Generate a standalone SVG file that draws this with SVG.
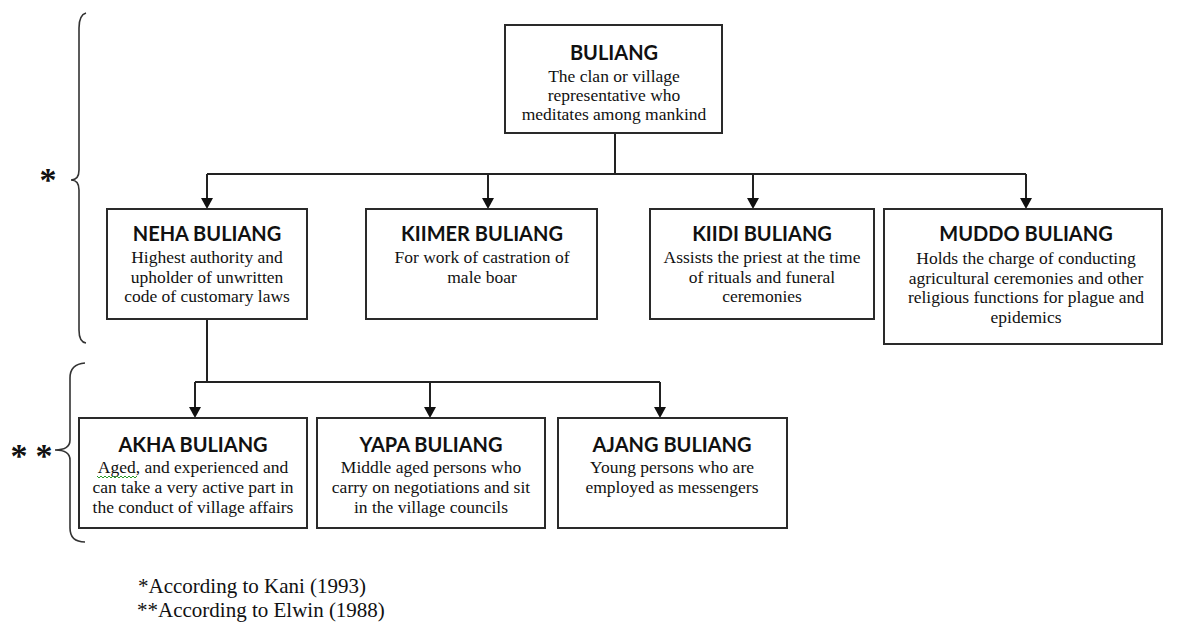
<svg xmlns="http://www.w3.org/2000/svg" width="1182" height="622" viewBox="0 0 1182 622">
<style>
.box{fill:#fff;stroke:#2a2a2a;stroke-width:2}
.t{font-family:Lato,"Liberation Sans",sans-serif;font-weight:bold;font-size:20px;fill:#111;text-anchor:middle}
.b{font-family:"Liberation Serif",serif;font-size:17.5px;fill:#111;text-anchor:middle}
.ln{fill:none;stroke:#222;stroke-width:2}
.br{fill:none;stroke:#333;stroke-width:1.6}
.ast{font-family:"Liberation Serif",serif;font-weight:bold;font-size:34px;fill:#111}
.fn{font-family:"Liberation Serif",serif;font-size:21px;fill:#111}
</style>
<rect width="1182" height="622" fill="#fff"/>
<g id="connectors">
<path class="ln" d="M615,133 V174"/>
<path class="ln" d="M207,174 H1026"/>
<path class="ln" d="M207,174 V207"/>
<path class="ln" d="M488,174 V207"/>
<path class="ln" d="M753,174 V207"/>
<path class="ln" d="M1026,174 V207"/>
<polygon points="201,198 213,198 207,209" fill="#111"/>
<polygon points="482,198 494,198 488,209" fill="#111"/>
<polygon points="747,198 759,198 753,209" fill="#111"/>
<polygon points="1020,198 1032,198 1026,209" fill="#111"/>
<path class="ln" d="M207,319 V382"/>
<path class="ln" d="M195,382 H660" stroke="#555"/>
<path class="ln" d="M195,382 V416"/>
<path class="ln" d="M430,382 V416"/>
<path class="ln" d="M660,382 V416"/>
<polygon points="189,407 201,407 195,418" fill="#111"/>
<polygon points="424,407 436,407 430,418" fill="#111"/>
<polygon points="654,407 666,407 660,418" fill="#111"/>
</g>
<g id="brace-top">
<path class="br" d="M86,13 Q79,15 79,28 L79,170 Q79,180 71,180 Q79,180 79,190 L79,330 Q79,342 86,343"/>
<text class="ast" x="48" y="191" text-anchor="middle">*</text>
</g>
<g id="brace-bottom">
<path class="br" d="M85,363 Q70,364 70,378 L70,440 Q70,450 55,450 Q70,450 70,460 L70,528 Q70,542 85,542"/>
<text class="ast" x="19" y="467" text-anchor="middle">*</text>
<text class="ast" x="44" y="467" text-anchor="middle">*</text>
</g>
<g id="buliang">
<rect class="box" x="505" y="25" width="217" height="108"/>
<text class="t" x="614" y="60">BULIANG</text>
<text class="b" x="614" y="82">The clan or village</text>
<text class="b" x="614" y="101">representative who</text>
<text class="b" x="614" y="120">meditates among mankind</text>
</g>
<g id="neha">
<rect class="box" x="107" y="209" width="200" height="110"/>
<text class="t" x="207" y="241">NEHA BULIANG</text>
<text class="b" x="207" y="263">Highest authority and</text>
<text class="b" x="207" y="283">upholder of unwritten</text>
<text class="b" x="207" y="302">code of customary laws</text>
</g>
<g id="kiimer">
<rect class="box" x="366" y="209" width="231" height="110"/>
<text class="t" x="482" y="241">KIIMER BULIANG</text>
<text class="b" x="482" y="263">For work of castration of</text>
<text class="b" x="482" y="283">male boar</text>
</g>
<g id="kiidi">
<rect class="box" x="650" y="209" width="224" height="110"/>
<text class="t" x="762" y="241">KIIDI BULIANG</text>
<text class="b" x="762" y="263">Assists the priest at the time</text>
<text class="b" x="762" y="283">of rituals and funeral</text>
<text class="b" x="762" y="302">ceremonies</text>
</g>
<g id="muddo">
<rect class="box" x="884" y="209" width="278" height="135"/>
<text class="t" x="1026" y="241">MUDDO BULIANG</text>
<text class="b" x="1026" y="264">Holds the charge of conducting</text>
<text class="b" x="1026" y="284">agricultural ceremonies and other</text>
<text class="b" x="1026" y="303">religious functions for plague and</text>
<text class="b" x="1026" y="323">epidemics</text>
</g>
<g id="akha">
<rect class="box" x="79" y="418" width="228" height="110"/>
<text class="t" x="193" y="452">AKHA BULIANG</text>
<text class="b" x="193" y="473">Aged, and experienced and</text>
<text class="b" x="193" y="493">can take a very active part in</text>
<text class="b" x="193" y="513">the conduct of village affairs</text>
<path d="M97,476 l2,2 l2,-2 l2,2 l2,-2 l2,2 l2,-2 l2,2 l2,-2 l2,2 l2,-2 l2,2 l2,-2 l2,2 l2,-2 l2,2 l2,-2 l2,2 l2,-2 l2,2 l2,-2" fill="none" stroke="#2a9a2a" stroke-width="1"/>
</g>
<g id="yapa">
<rect class="box" x="317" y="418" width="228" height="110"/>
<text class="t" x="431" y="452">YAPA BULIANG</text>
<text class="b" x="431" y="473">Middle aged persons who</text>
<text class="b" x="431" y="493">carry on negotiations and sit</text>
<text class="b" x="431" y="513">in the village councils</text>
</g>
<g id="ajang">
<rect class="box" x="558" y="418" width="229" height="110"/>
<text class="t" x="672" y="452">AJANG BULIANG</text>
<text class="b" x="672" y="473">Young persons who are</text>
<text class="b" x="672" y="493">employed as messengers</text>
</g>
<g id="footnotes">
<text class="fn" x="138" y="593">*According to Kani (1993)</text>
<text class="fn" x="137" y="617">**According to Elwin (1988)</text>
</g>
</svg>
